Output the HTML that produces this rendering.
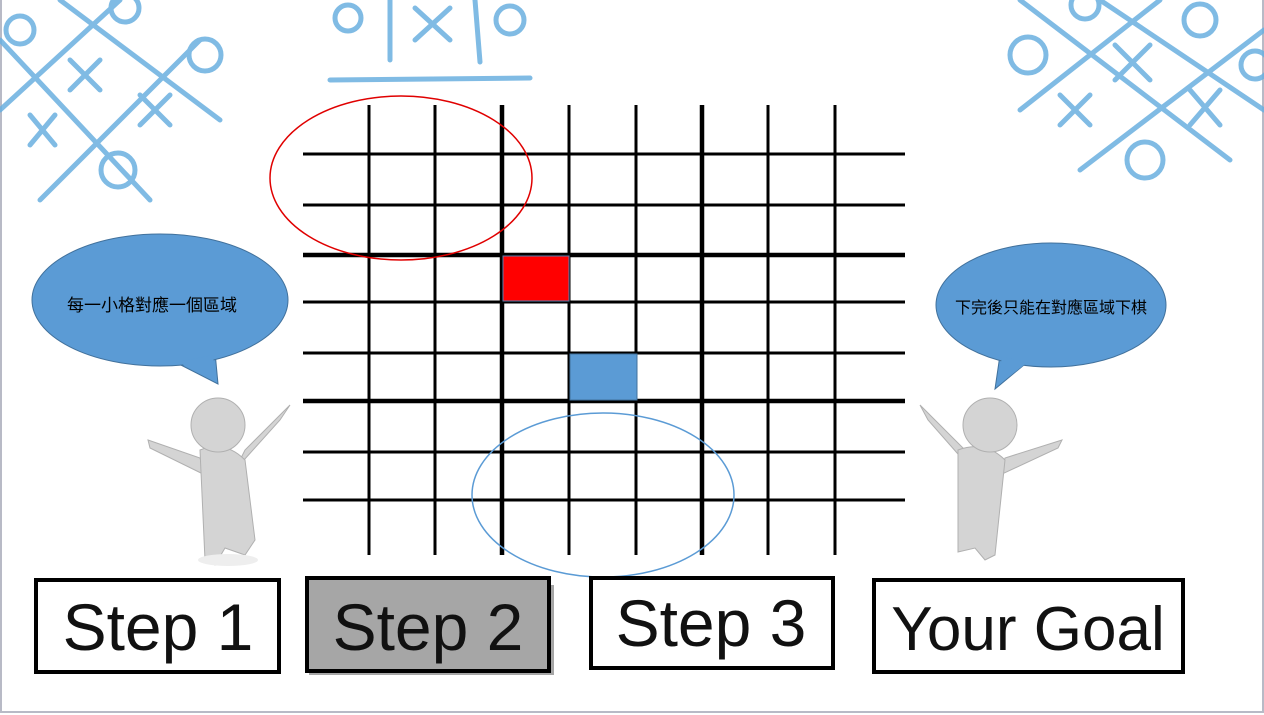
<!DOCTYPE html>
<html><head><meta charset="utf-8"><style>
html,body{margin:0;padding:0;background:#fff}
svg{display:block}
.tx{font-family:"Liberation Sans","Noto Sans CJK TC",sans-serif}
</style></head><body>
<svg width="1264" height="715" viewBox="0 0 1264 715">
<rect x="0" y="0" width="1264" height="715" fill="#fff"/>
<rect x="1" y="-2" width="1262" height="714" fill="none" stroke="#b8bac6" stroke-width="2"/>
<!-- tic-tac-toe decorations -->
<g stroke="#6ab0e0" stroke-width="5" fill="none" stroke-linecap="round" opacity="0.85">
<line x1="0" y1="40" x2="150" y2="200"/><line x1="60" y1="0" x2="220" y2="120"/><line x1="0" y1="110" x2="120" y2="0"/><line x1="40" y1="200" x2="200" y2="40"/>
<circle cx="20" cy="30" r="14"/><circle cx="205" cy="55" r="16"/><circle cx="118" cy="170" r="17"/><circle cx="125" cy="8" r="14"/>
<line x1="70" y1="60" x2="100" y2="90"/><line x1="100" y1="60" x2="70" y2="90"/>
<line x1="140" y1="95" x2="170" y2="125"/><line x1="170" y1="95" x2="140" y2="125"/>
<line x1="30" y1="115" x2="55" y2="145"/><line x1="55" y1="115" x2="30" y2="145"/>
</g>
<g stroke="#6ab0e0" stroke-width="5" fill="none" stroke-linecap="round" opacity="0.85">
<line x1="390" y1="0" x2="390" y2="60"/><line x1="475" y1="0" x2="480" y2="62"/><line x1="330" y1="80" x2="530" y2="78"/>
<circle cx="348" cy="18" r="13"/><circle cx="510" cy="20" r="14"/>
<line x1="415" y1="8" x2="450" y2="40"/><line x1="450" y1="8" x2="415" y2="40"/>
</g>
<g stroke="#6ab0e0" stroke-width="5" fill="none" stroke-linecap="round" opacity="0.85">
<line x1="1020" y1="0" x2="1230" y2="160"/><line x1="1100" y1="0" x2="1264" y2="110"/><line x1="1020" y1="110" x2="1160" y2="0"/><line x1="1080" y1="170" x2="1264" y2="30"/>
<circle cx="1028" cy="55" r="18"/><circle cx="1145" cy="160" r="18"/><circle cx="1200" cy="20" r="16"/><circle cx="1255" cy="65" r="14"/><circle cx="1085" cy="5" r="14"/>
<line x1="1115" y1="45" x2="1150" y2="80"/><line x1="1150" y1="45" x2="1115" y2="80"/>
<line x1="1060" y1="95" x2="1090" y2="125"/><line x1="1090" y1="95" x2="1060" y2="125"/>
<line x1="1190" y1="90" x2="1220" y2="125"/><line x1="1220" y1="90" x2="1190" y2="125"/>
</g>
<!-- grid -->
<g stroke="#000">
<line x1="369" y1="105" x2="369" y2="555" stroke-width="3"/>
<line x1="435" y1="105" x2="435" y2="555" stroke-width="3"/>
<line x1="502" y1="105" x2="502" y2="555" stroke-width="4.5"/>
<line x1="569" y1="105" x2="569" y2="555" stroke-width="3"/>
<line x1="636" y1="105" x2="636" y2="555" stroke-width="3"/>
<line x1="702" y1="105" x2="702" y2="555" stroke-width="4.5"/>
<line x1="768" y1="105" x2="768" y2="555" stroke-width="3"/>
<line x1="835" y1="105" x2="835" y2="555" stroke-width="3"/>
<line x1="303" y1="154" x2="905" y2="154" stroke-width="3"/>
<line x1="303" y1="205" x2="905" y2="205" stroke-width="3"/>
<line x1="303" y1="255" x2="905" y2="255" stroke-width="4.5"/>
<line x1="303" y1="302" x2="905" y2="302" stroke-width="3"/>
<line x1="303" y1="353" x2="905" y2="353" stroke-width="3"/>
<line x1="303" y1="401" x2="905" y2="401" stroke-width="4.5"/>
<line x1="303" y1="452" x2="905" y2="452" stroke-width="3"/>
<line x1="303" y1="500" x2="905" y2="500" stroke-width="3"/>
</g>
<rect x="503" y="256" width="66" height="45" fill="#ff0000" stroke="#5a7fb0" stroke-width="1"/>
<rect x="570" y="354" width="67" height="46" fill="#5b9bd5" stroke="#41719c" stroke-width="1"/>
<ellipse cx="401" cy="178" rx="131" ry="82" fill="none" stroke="#e00000" stroke-width="1.5"/>
<ellipse cx="603" cy="495" rx="131" ry="82" fill="none" stroke="#5b9bd5" stroke-width="1.5"/>
<!-- speech bubbles -->
<g>
<path d="M 175 362 L 218 384 L 215 352 Z" fill="#5b9bd5" stroke="#41719c"/>
<ellipse cx="160" cy="300" rx="128" ry="66" fill="#5b9bd5" stroke="#41719c" stroke-width="1"/>
<path d="M 178 362 L 216 382 L 213 355 Z" fill="#5b9bd5"/>
<text class="tx" x="152" y="311" font-size="17" text-anchor="middle" fill="#000">每一小格對應一個區域</text>
</g>
<g>
<path d="M 1030 360 L 995 389 L 1000 355 Z" fill="#5b9bd5" stroke="#41719c"/>
<ellipse cx="1051" cy="305" rx="115" ry="62" fill="#5b9bd5" stroke="#41719c" stroke-width="1"/>
<path d="M 1028 362 L 997 386 L 1002 357 Z" fill="#5b9bd5"/>
<text class="tx" x="1051" y="313" font-size="16" text-anchor="middle" fill="#000">下完後只能在對應區域下棋</text>
</g>
<!-- figures -->
<g fill="#d4d4d4" stroke="#b0b0b0" stroke-width="1">
<path d="M 148 440 L 200 458 L 205 475 L 150 448 Z"/>
<path d="M 290 405 L 245 450 L 235 470 L 280 420 Z"/>
<path d="M 200 450 Q 225 440 245 460 L 255 540 L 245 555 L 225 548 L 215 565 L 205 560 Z"/>
<circle cx="218" cy="425" r="27"/>
<ellipse cx="228" cy="560" rx="30" ry="6" fill="#eee" stroke="none"/>
</g>
<g fill="#d4d4d4" stroke="#b0b0b0" stroke-width="1">
<path d="M 920 405 L 965 450 L 972 470 L 928 420 Z"/>
<path d="M 1062 440 L 1005 458 L 1000 475 L 1058 448 Z"/>
<path d="M 958 450 Q 985 440 1005 460 L 995 555 L 985 560 L 975 548 L 958 552 Z"/>
<circle cx="990" cy="425" r="27"/>
</g>
<!-- step boxes -->
<g>
<rect x="36" y="580" width="243" height="92" fill="#fff" stroke="#000" stroke-width="4"/>
<text class="tx" x="158" y="650" font-size="66" text-anchor="middle" fill="#111">Step 1</text>
</g>
<g>
<rect x="269" y="583" width="0" height="0"/>
<rect x="309" y="585" width="245" height="90" fill="#a6a6a6"/>
<rect x="307" y="578" width="242" height="93" fill="#a6a6a6" stroke="#000" stroke-width="4"/>
<text class="tx" x="428" y="650" font-size="66" text-anchor="middle" fill="#111">Step 2</text>
</g>
<g>
<rect x="591" y="578" width="242" height="90" fill="#fff" stroke="#000" stroke-width="4"/>
<text class="tx" x="711" y="646" font-size="66" text-anchor="middle" fill="#111">Step 3</text>
</g>
<g>
<rect x="874" y="580" width="309" height="92" fill="#fff" stroke="#000" stroke-width="4"/>
<text class="tx" x="1028" y="650" font-size="62" text-anchor="middle" fill="#111">Your Goal</text>
</g>
</svg>
</body></html>
